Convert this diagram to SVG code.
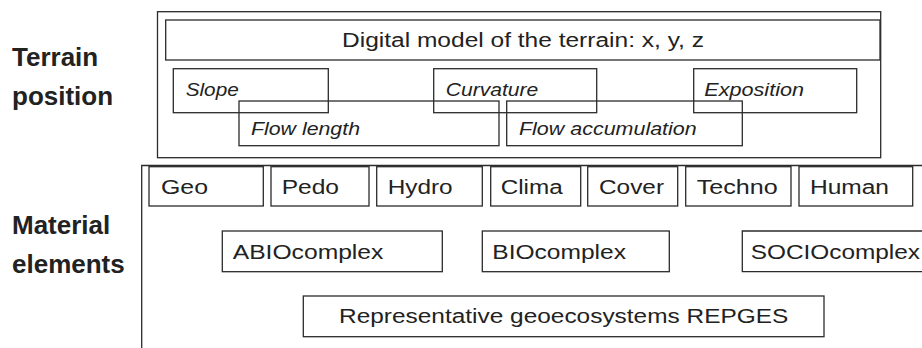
<svg xmlns="http://www.w3.org/2000/svg" width="922" height="348" viewBox="0 0 922 348">
  <style>
    .box { fill: none; stroke: #2b2b2b; stroke-width: 1.3; }
    .t { font-family: "Liberation Sans", Arial, sans-serif; font-size: 20px; fill: #222; }
    .ti { font-family: "Liberation Sans", Arial, sans-serif; font-size: 18px; font-style: italic; fill: #222; }
    .lbl { font-family: "Liberation Sans", Arial, sans-serif; font-size: 26px; font-weight: bold; fill: #222; }
  </style>
  <rect width="922" height="348" fill="#fff"/>

  <!-- side headings -->
  <g id="heading-terrain">
    <text class="lbl" x="12" y="66">Terrain</text>
    <text class="lbl" x="12" y="105">position</text>
  </g>
  <g id="heading-material">
    <text class="lbl" x="12" y="234">Material</text>
    <text class="lbl" x="12" y="273">elements</text>
  </g>

  <!-- terrain position block -->
  <g id="terrain-frame">
    <rect class="box" x="157.5" y="11.7" width="723.2" height="146"/>
  </g>
  <g id="dtm">
    <rect class="box" x="165.7" y="20" width="714.3" height="40"/>
    <text class="t" x="342" y="47" textLength="362" lengthAdjust="spacingAndGlyphs">Digital model of the terrain: x, y, z</text>
  </g>
  <g id="slope">
    <rect class="box" x="173.3" y="68.7" width="155" height="44"/>
    <text class="ti" x="185.7" y="96" textLength="53" lengthAdjust="spacingAndGlyphs">Slope</text>
  </g>
  <g id="curvature">
    <rect class="box" x="433.7" y="68.7" width="163" height="44"/>
    <text class="ti" x="445.7" y="96" textLength="92.6" lengthAdjust="spacingAndGlyphs">Curvature</text>
  </g>
  <g id="exposition">
    <rect class="box" x="693.7" y="68.7" width="163" height="44"/>
    <text class="ti" x="704.3" y="96" textLength="99.7" lengthAdjust="spacingAndGlyphs">Exposition</text>
  </g>
  <g id="flow-length">
    <rect class="box" x="239" y="101" width="260" height="44.7"/>
    <text class="ti" x="251" y="135" textLength="109" lengthAdjust="spacingAndGlyphs">Flow length</text>
  </g>
  <g id="flow-accumulation">
    <rect class="box" x="506.7" y="101" width="235.6" height="44.7"/>
    <text class="ti" x="519" y="135" textLength="177.7" lengthAdjust="spacingAndGlyphs">Flow accumulation</text>
  </g>

  <!-- material elements block (open to the right and bottom) -->
  <g id="material-frame">
    <path class="box" d="M922,165.5 H141.7 V348"/>
  </g>
  <g id="geo">
    <rect class="box" x="149" y="166.7" width="114.3" height="39.3"/>
    <text class="t" x="161" y="194" textLength="47" lengthAdjust="spacingAndGlyphs">Geo</text>
  </g>
  <g id="pedo">
    <rect class="box" x="271" y="166.7" width="98" height="39.3"/>
    <text class="t" x="281.7" y="194" textLength="57.3" lengthAdjust="spacingAndGlyphs">Pedo</text>
  </g>
  <g id="hydro">
    <rect class="box" x="376.7" y="166.7" width="105.6" height="39.3"/>
    <text class="t" x="387.7" y="194" textLength="65" lengthAdjust="spacingAndGlyphs">Hydro</text>
  </g>
  <g id="clima">
    <rect class="box" x="490.7" y="166.7" width="90" height="39.3"/>
    <text class="t" x="500.7" y="194" textLength="62" lengthAdjust="spacingAndGlyphs">Clima</text>
  </g>
  <g id="cover">
    <rect class="box" x="587.7" y="166.7" width="90" height="39.3"/>
    <text class="t" x="599" y="194" textLength="65" lengthAdjust="spacingAndGlyphs">Cover</text>
  </g>
  <g id="techno">
    <rect class="box" x="685.7" y="166.7" width="105.3" height="39.3"/>
    <text class="t" x="696.7" y="194" textLength="81" lengthAdjust="spacingAndGlyphs">Techno</text>
  </g>
  <g id="human">
    <rect class="box" x="799" y="166.7" width="113.7" height="39.3"/>
    <text class="t" x="810" y="194" textLength="79" lengthAdjust="spacingAndGlyphs">Human</text>
  </g>
  <g id="abiocomplex">
    <rect class="box" x="222.3" y="231" width="220" height="40.7"/>
    <text class="t" x="232.7" y="258.6" textLength="150.7" lengthAdjust="spacingAndGlyphs">ABIOcomplex</text>
  </g>
  <g id="biocomplex">
    <rect class="box" x="482.3" y="231" width="187" height="40.7"/>
    <text class="t" x="492.3" y="258.6" textLength="133.7" lengthAdjust="spacingAndGlyphs">BIOcomplex</text>
  </g>
  <g id="sociocomplex">
    <path class="box" d="M922,231 H742.3 V271.7 H922"/>
    <text class="t" x="750.7" y="258.6" textLength="169.3" lengthAdjust="spacingAndGlyphs">SOCIOcomplex</text>
  </g>
  <g id="repges">
    <rect class="box" x="303.3" y="296" width="520.7" height="40.7"/>
    <text class="t" x="339" y="323" textLength="449.3" lengthAdjust="spacingAndGlyphs">Representative geoecosystems REPGES</text>
  </g>
</svg>
